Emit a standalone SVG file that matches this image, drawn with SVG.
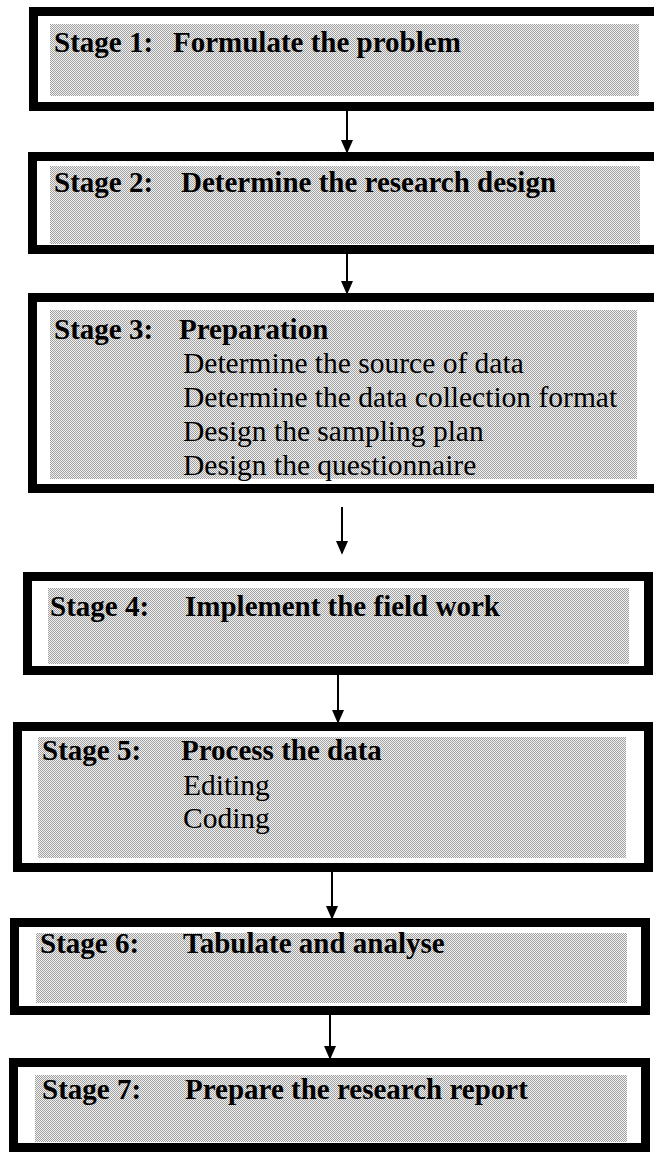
<svg xmlns="http://www.w3.org/2000/svg" width="654" height="1156" viewBox="0 0 654 1156">
<defs>
<pattern id="dither" width="2" height="2" patternUnits="userSpaceOnUse">
<rect width="2" height="2" fill="#f2f2f2"/>
<rect x="0" y="0" width="1" height="1" fill="#a0a0a0"/>
<rect x="1" y="1" width="1" height="1" fill="#a0a0a0"/>
</pattern>
<marker id="arrow" markerWidth="14" markerHeight="16" refX="14" refY="7" orient="auto" markerUnits="userSpaceOnUse" viewBox="0 0 16 14">
<path d="M0,0 L16,7 L0,14 Z" fill="#000"/>
</marker>
</defs>
<style>
.frame{fill:#fff;stroke:#000;stroke-width:9}
.tex{fill:url(#dither)}
.h{font-family:"Liberation Serif","Times New Roman",serif;font-weight:bold;font-size:29px;fill:#000}
.t{font-family:"Liberation Serif","Times New Roman",serif;font-size:29.5px;fill:#000}
.conn{stroke:#000;stroke-width:2;fill:none}
</style>
<rect width="654" height="1156" fill="#fff"/>

<g id="connectors">
<line class="conn" x1="347" y1="111" x2="347" y2="152" marker-end="url(#arrow)"/>
<line class="conn" x1="347" y1="254" x2="347" y2="293" marker-end="url(#arrow)"/>
<line class="conn" x1="342" y1="507" x2="342" y2="553" marker-end="url(#arrow)"/>
<line class="conn" x1="338" y1="675" x2="338" y2="722" marker-end="url(#arrow)"/>
<line class="conn" x1="332" y1="872" x2="332" y2="918" marker-end="url(#arrow)"/>
<line class="conn" x1="330" y1="1015" x2="330" y2="1058" marker-end="url(#arrow)"/>
</g>

<g id="stage1">
<rect class="frame" x="33.5" y="11.5" width="640" height="95"/>
<rect class="tex" x="50" y="24" width="589" height="72"/>
<text class="h" x="54" y="52">Stage 1:</text>
<text class="h" x="173" y="52">Formulate the problem</text>
</g>

<g id="stage2">
<rect class="frame" x="32.5" y="156.5" width="640" height="93"/>
<rect class="tex" x="50" y="166" width="590" height="78"/>
<text class="h" x="54" y="192">Stage 2:</text>
<text class="h" x="181" y="192">Determine the research design</text>
</g>

<g id="stage3">
<rect class="frame" x="32.5" y="297.5" width="640" height="191"/>
<rect class="tex" x="50" y="310" width="587" height="169"/>
<text class="h" x="54" y="339">Stage 3:</text>
<text class="h" x="179" y="339">Preparation</text>
<text class="t" x="183" y="373">Determine the source of data</text>
<text class="t" x="183" y="407">Determine the data collection format</text>
<text class="t" x="183" y="441">Design the sampling plan</text>
<text class="t" x="183" y="475">Design the questionnaire</text>
</g>

<g id="stage4">
<rect class="frame" x="27.5" y="576.5" width="621" height="94"/>
<rect class="tex" x="48" y="588" width="581" height="76"/>
<text class="h" x="50" y="616">Stage 4:</text>
<text class="h" x="185" y="616">Implement the field work</text>
</g>

<g id="stage5">
<rect class="frame" x="17.5" y="726.5" width="631" height="141"/>
<rect class="tex" x="38" y="737" width="588" height="121"/>
<text class="h" x="42" y="760">Stage 5:</text>
<text class="h" x="181" y="760">Process the data</text>
<text class="t" x="183" y="795">Editing</text>
<text class="t" x="183" y="828">Coding</text>
</g>

<g id="stage6">
<rect class="frame" x="14.5" y="922.5" width="631" height="88"/>
<rect class="tex" x="36" y="933" width="591" height="70"/>
<text class="h" x="40" y="953">Stage 6:</text>
<text class="h" x="183" y="953">Tabulate and analyse</text>
</g>

<g id="stage7">
<rect class="frame" x="13.5" y="1062.5" width="632" height="85"/>
<rect class="tex" x="35" y="1075" width="592" height="67"/>
<text class="h" x="42" y="1099">Stage 7:</text>
<text class="h" x="185" y="1099">Prepare the research report</text>
</g>
</svg>
